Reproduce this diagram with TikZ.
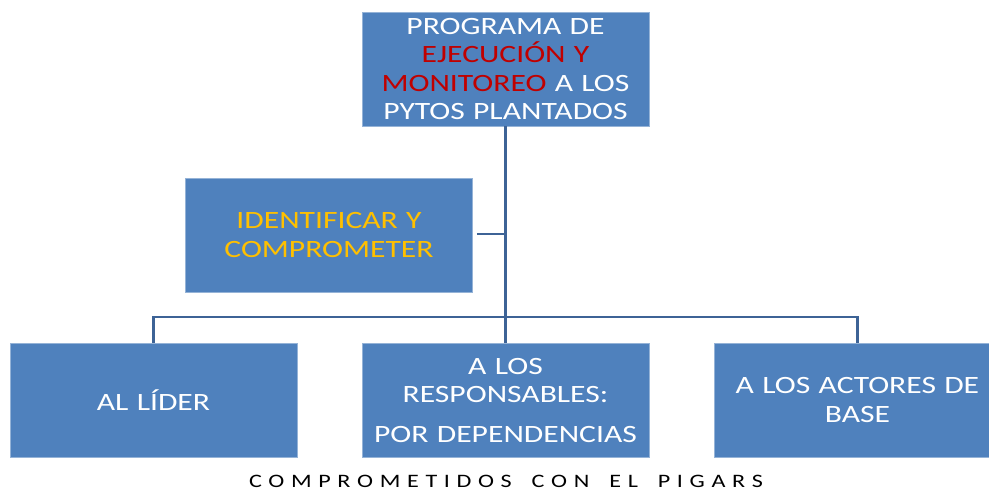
\documentclass[tikz,border=0pt]{standalone}
\usepackage{fontspec}
\setmainfont{Carlito}[FakeStretch=1.27]
\definecolor{boxblue}{HTML}{4F81BD}
\definecolor{linkblue}{HTML}{3D6396}
\definecolor{redtxt}{HTML}{C00000}
\definecolor{goldtxt}{HTML}{FFC000}
\begin{document}
\begin{tikzpicture}[x=1pt,y=-1pt,
  bluebox/.style={fill=boxblue,draw=boxblue!60!white,line width=0.6pt,
    minimum width=287pt,minimum height=114pt,inner sep=0pt,
    text width=284pt,align=center,text=white,
    font=\fontsize{24.9}{28.5}\selectfont},
  link/.style={draw=linkblue,line width=2.6pt}]
\useasboundingbox (0,0) rectangle (989,491);
\node[bluebox] (top) at (505.5,69) {PROGRAMA DE\\ \textcolor{redtxt}{EJECUCIÓN Y}\\ \textcolor{redtxt}{MONITOREO} A LOS\\ PYTOS PLANTADOS};
\node[bluebox,text=goldtxt] (ident) at (329,235) {IDENTIFICAR Y\\ COMPROMETER};
\node[bluebox] (lider) at (153.5,400) {AL LÍDER};
\node[bluebox] (resp) at (505.5,400) {A LOS\\ RESPONSABLES:\\[11pt] POR DEPENDENCIAS};
\node[bluebox] (base) at (857.5,400) {A LOS ACTORES DE\\ BASE};
\coordinate (bar) at (505.5,317);
\coordinate (join) at (505.5,234);
\draw[link] (top.south) -- (resp.north);
\draw[link,shorten <=4pt] (ident.east |- join) -- (join);
\draw[link] (lider.north) -- (lider.north |- bar) -- (base.north |- bar) -- (base.north);
\node[anchor=base,inner sep=0pt,font=\fontsize{19}{20}\selectfont] (cap) at (506,487)
  {\makebox[514pt][s]{C\hfil O\hfil M\hfil P\hfil R\hfil O\hfil M\hfil E\hfil T\hfil I\hfil D\hfil O\hfil S\hfil\hfil\hfil C\hfil O\hfil N\hfil\hfil\hfil E\hfil L\hfil\hfil\hfil P\hfil I\hfil G\hfil A\hfil R\hfil S}};
\end{tikzpicture}
\end{document}
